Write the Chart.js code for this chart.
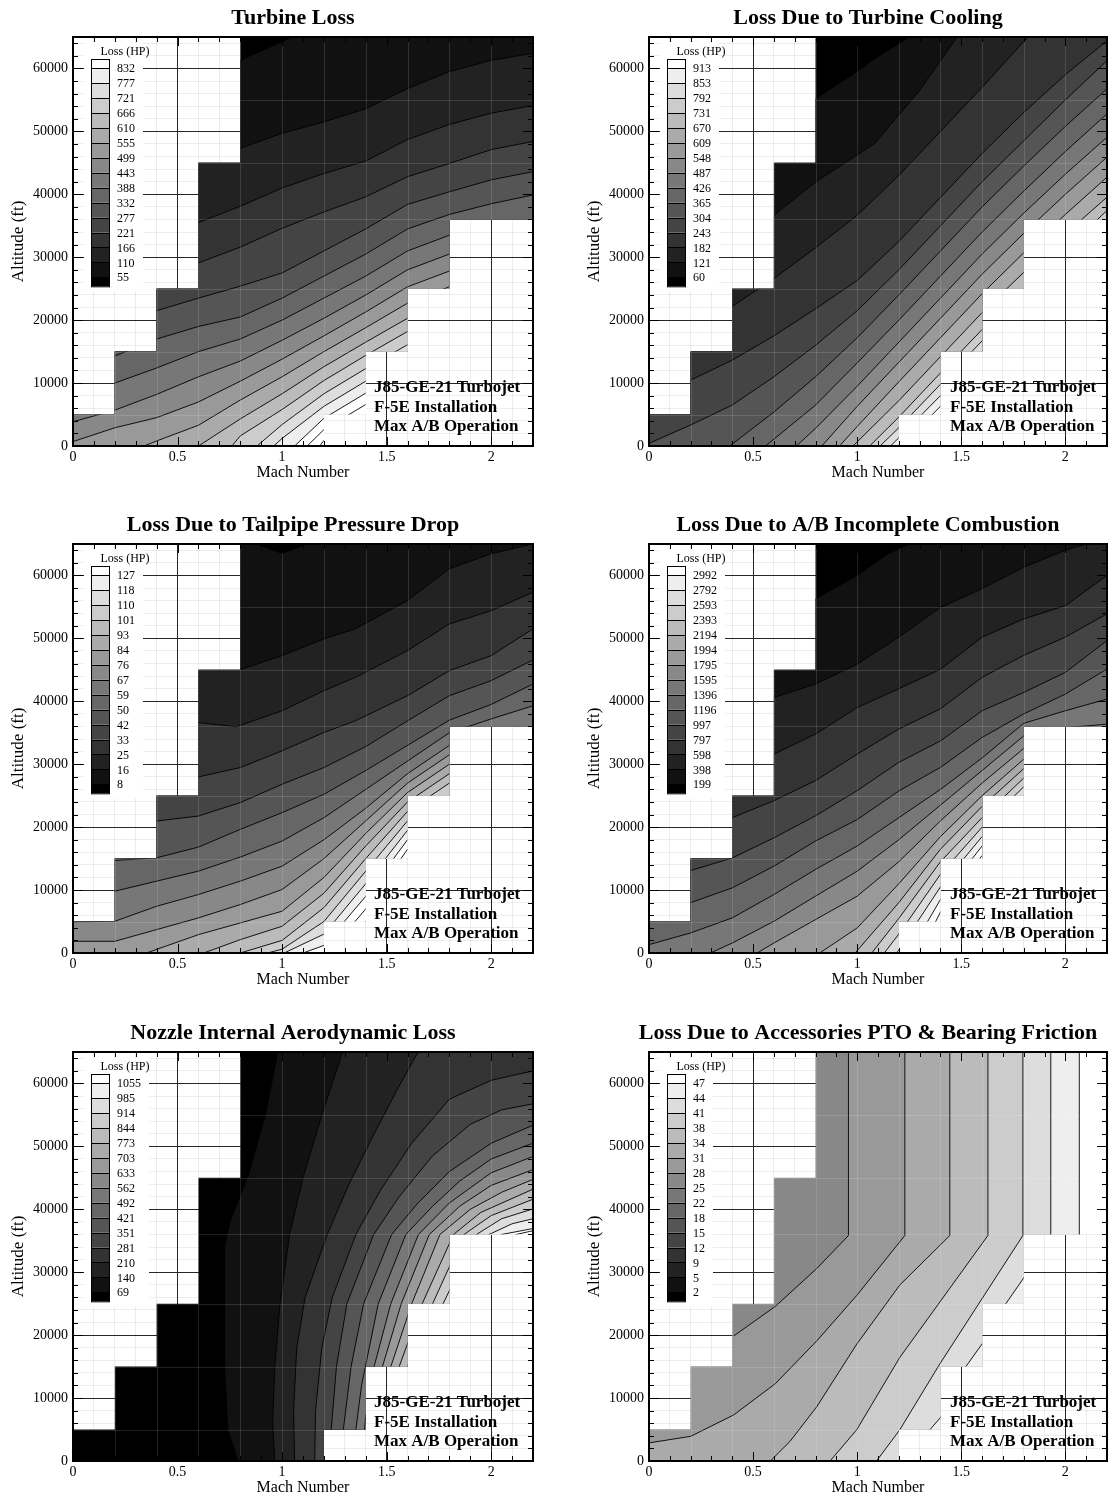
<!DOCTYPE html>
<html>
  <head>
    <title>J85-GE-21 Installation Losses</title>
    <script src="https://cdn.jsdelivr.net/npm/chart.js"></script>
    <style>
      body { margin: 0; background: #fff; width: 1110px; height: 1507px; overflow: hidden; position: relative; }
      .panel { position: absolute; }
    </style>
  </head>

  <body>
    <div class="panel" style="left:0px;top:1px;width:560px;height:491px"><canvas id="c1"></canvas></div>
    <div class="panel" style="left:576px;top:1px;width:534px;height:491px"><canvas id="c2"></canvas></div>
    <div class="panel" style="left:0px;top:508px;width:560px;height:491px"><canvas id="c3"></canvas></div>
    <div class="panel" style="left:576px;top:508px;width:534px;height:491px"><canvas id="c4"></canvas></div>
    <div class="panel" style="left:0px;top:1016px;width:560px;height:491px"><canvas id="c5"></canvas></div>
    <div class="panel" style="left:576px;top:1016px;width:534px;height:491px"><canvas id="c6"></canvas></div>

    <script>
      // axes
      const machRange = [0, 2.2];
      const altRange = [0, 65000];
      const machStep = 0.1;
      const machLabelStep = 0.5;
      const altStep = 1000;
      const altMinorStep = 2000;
      const altLabelStep = 10000;

      // flight envelope (staircase), everything outside stays white
      const envelope = [
        [0, 0], [0, 5000], [0.2, 5000], [0.2, 15000], [0.4, 15000], [0.4, 25000],
        [0.6, 25000], [0.6, 45000], [0.8, 45000], [0.8, 65000], [2.2, 65000],
        [2.2, 36000], [1.8, 36000], [1.8, 25000], [1.6, 25000], [1.6, 15000],
        [1.4, 15000], [1.4, 5000], [1.2, 5000], [1.2, 0]
      ];
      const zoneMach = [0.2, 0.4, 0.6, 0.8, 1.0, 1.2, 1.4, 1.6, 1.8, 2.0];
      const zoneAlt = [5000, 15000, 25000, 36000, 45000, 55000];

      // contour lines: [level index, [[mach, altitude], ...]]
      const turbineLevels = [55, 110, 166, 221, 277, 332, 388, 443, 499, 555, 610, 666, 721, 777, 832];
      const turbineLines = [
        [0, [[0.8, 61300], [1.05, 65000]]],
        [1, [[0.8, 47300], [1.0, 49700], [1.2, 51500], [1.4, 53600], [1.6, 56800], [1.8, 59500], [2.0, 61300], [2.2, 62400]]],
        [2, [[0.6, 35500], [0.8, 38100], [1.0, 41000], [1.2, 43300], [1.4, 45300], [1.6, 48700], [1.8, 51100], [2.0, 52900], [2.2, 54100]]],
        [3, [[0.6, 29100], [0.8, 31600], [1.0, 34600], [1.2, 37200], [1.4, 39600], [1.6, 42800], [1.8, 44900], [2.0, 47100], [2.2, 48400]]],
        [4, [[0.4, 21500], [0.6, 23500], [0.8, 25400], [1.0, 27500], [1.2, 31000], [1.4, 34500], [1.6, 38400], [1.8, 40400], [2.0, 42300], [2.2, 43600]]],
        [5, [[0.2, 14300], [0.4, 17000], [0.6, 19000], [0.8, 20500], [1.0, 23500], [1.2, 27000], [1.4, 30500], [1.6, 34500], [1.8, 36800], [2.0, 38500], [2.2, 39900]]],
        [6, [[0.2, 10000], [0.4, 12400], [0.6, 15000], [0.8, 17000], [1.0, 20000], [1.2, 23500], [1.4, 27000], [1.6, 31000], [1.8, 33500], [2.0, 35000], [2.2, 35800]]],
        [7, [[0, 3850], [0.2, 5700], [0.4, 8200], [0.6, 11000], [0.8, 13500], [1.0, 16800], [1.2, 20300], [1.4, 24000], [1.6, 28000], [1.8, 30500]]],
        [8, [[0, 700], [0.2, 2900], [0.4, 4500], [0.6, 7000], [0.8, 10300], [1.0, 13800], [1.2, 17500], [1.4, 21300], [1.6, 25300], [1.8, 27800]]],
        [9, [[0.34, 0], [0.4, 800], [0.6, 3300], [0.8, 7300], [1.0, 11000], [1.2, 15000], [1.4, 18800], [1.6, 22700], [1.8, 25300]]],
        [10, [[0.6, 0], [0.8, 4300], [1.0, 8300], [1.2, 12600], [1.4, 16500], [1.6, 20300]]],
        [11, [[0.76, 0], [0.8, 1600], [1.0, 5800], [1.2, 10400], [1.4, 14400], [1.6, 18200]]],
        [12, [[0.88, 0], [1.0, 3400], [1.2, 8300], [1.4, 12300], [1.6, 16100]]],
        [13, [[0.96, 0], [1.0, 1200], [1.2, 6300], [1.4, 10300], [1.6, 14200]]],
        [14, [[1.06, 0], [1.2, 4400], [1.4, 8400], [1.6, 12400]]],
        [15, [[1.12, 0], [1.2, 2600], [1.4, 6600]]],
        [16, [[1.18, 0], [1.2, 900], [1.4, 4900]]]
      ];

      const coolingLevels = [60, 121, 182, 243, 304, 365, 426, 487, 548, 609, 670, 731, 792, 853, 913];
      const coolingLines = [
        [0, [[0.8, 55200], [1.0, 59500], [1.083, 61530], [1.25, 65000]]],
        [1, [[0.6, 36660], [0.8, 41950], [1.083, 48030], [1.3, 56500], [1.48, 65000]]],
        [2, [[0.4, 22200], [0.6, 26600], [0.8, 31500], [1.0, 36660], [1.2, 43000], [1.4, 50000], [1.6, 57000], [1.82, 65000]]],
        [3, [[0.2, 10474], [0.4, 13650], [0.6, 17500], [0.8, 21800], [1.0, 26300], [1.2, 32500], [1.4, 39500], [1.6, 46500], [1.8, 53000], [2.0, 59000], [2.2, 64400]]],
        [4, [[0, 423], [0.2, 3333], [0.4, 6508], [0.6, 11000], [0.8, 16000], [1.0, 21500], [1.2, 28000], [1.4, 35000], [1.6, 42000], [1.8, 48500], [2.0, 55000], [2.2, 61250]]],
        [5, [[0.388, 0], [0.6, 5400], [0.8, 11000], [1.0, 17200], [1.2, 24000], [1.4, 31000], [1.6, 38000], [1.8, 44500], [2.0, 50800], [2.2, 56760]]],
        [6, [[0.56, 0], [0.8, 6500], [1.0, 13200], [1.2, 20000], [1.4, 27000], [1.6, 34000], [1.8, 40500], [2.0, 46800], [2.2, 52785]]],
        [7, [[0.708, 0], [0.8, 2800], [1.0, 9500], [1.2, 16500], [1.4, 23500], [1.6, 30500], [1.8, 37000], [2.0, 43200], [2.2, 49080]]],
        [8, [[0.83, 0], [1.0, 6300], [1.2, 13300], [1.4, 20300], [1.6, 27300], [1.8, 33800], [2.0, 40000], [2.2, 45900]]],
        [9, [[0.915, 0], [1.0, 3100], [1.2, 10200], [1.4, 17200], [1.6, 24200], [1.8, 30700], [2.0, 36800], [2.2, 42730]]],
        [10, [[0.98, 0], [1.2, 7200], [1.4, 14200], [1.6, 21200], [1.8, 27600], [2.0, 33700], [2.2, 39550]]],
        [11, [[1.06, 0], [1.2, 4600], [1.4, 11600], [1.6, 18500], [1.8, 24900], [2.0, 31200], [2.2, 37430]]],
        [12, [[1.11, 0], [1.2, 2900], [1.4, 9800], [1.6, 16700], [1.8, 23000], [2.0, 29500], [2.2, 35800]]],
        [13, [[1.16, 0], [1.2, 1300], [1.4, 8000], [1.6, 15000], [1.8, 21300], [2.0, 27800]]],
        [14, [[1.21, 0], [1.4, 6300], [1.6, 13300], [1.8, 19600]]],
        [15, [[1.26, 0], [1.4, 4600], [1.6, 11600], [1.8, 18000]]],
        [16, [[1.31, 0], [1.4, 3000], [1.6, 10000]]],
        [17, [[1.36, 0], [1.4, 1300], [1.6, 8400]]]
      ];

      const tailpipeLevels = [8, 16, 25, 33, 42, 50, 59, 67, 76, 84, 93, 101, 110, 118, 127];
      const tailpipeLines = [
        [0, [[0.88, 65000], [1.0, 63500], [1.12, 65000]]],
        [1, [[0.8, 45030], [1.0, 47260], [1.2, 49920], [1.35, 51510], [1.6, 56020], [1.8, 61060], [2.0, 63450], [2.2, 65000]]],
        [2, [[0.6, 36640], [0.78, 35950], [1.0, 38500], [1.2, 41680], [1.35, 43810], [1.6, 48050], [1.8, 52290], [2.0, 54410], [2.2, 57330]]],
        [3, [[0.6, 27980], [0.8, 29470], [1.0, 32130], [1.2, 35050], [1.35, 36900], [1.6, 40890], [1.8, 44870], [2.0, 47260], [2.2, 51510]]],
        [4, [[0.4, 20970], [0.6, 21770], [0.8, 23900], [1.0, 26820], [1.2, 29470], [1.4, 32800], [1.6, 36900], [1.8, 40890], [2.0, 43280], [2.2, 46570]]],
        [5, [[0.2, 14710], [0.4, 15130], [0.6, 16830], [0.8, 19650], [1.0, 22300], [1.2, 25220], [1.4, 29000], [1.6, 33000], [1.8, 37000], [2.0, 39500], [2.2, 42750]]],
        [6, [[0.2, 9820], [0.4, 11420], [0.6, 13010], [0.8, 15240], [1.0, 17790], [1.2, 21500], [1.4, 26000], [1.6, 30500], [1.8, 35000], [2.0, 37200], [2.2, 39290]]],
        [7, [[0, 4950], [0.2, 5040], [0.4, 7430], [0.6, 9290], [0.8, 11420], [1.0, 13800], [1.2, 18000], [1.4, 23000], [1.6, 28500], [1.8, 33000]]],
        [8, [[0, 1860], [0.2, 1860], [0.4, 3720], [0.6, 5580], [0.8, 7700], [1.0, 10090], [1.2, 15000], [1.4, 21000], [1.6, 27000], [1.8, 31500]]],
        [9, [[0.351, 0], [0.6, 2920], [0.8, 4780], [1.0, 6640], [1.2, 12000], [1.4, 19000], [1.6, 25500], [1.8, 30000]]],
        [10, [[0.625, 0], [0.8, 2120], [1.0, 4250], [1.2, 9500], [1.4, 17000], [1.6, 24000], [1.8, 28500]]],
        [11, [[0.8, 0], [1.0, 2000], [1.2, 7200], [1.4, 15000], [1.6, 22500], [1.8, 27000]]],
        [12, [[0.93, 0], [1.0, 600], [1.2, 5000], [1.4, 13000], [1.6, 21000]]],
        [13, [[1.01, 0], [1.2, 3000], [1.4, 11000], [1.6, 19500]]],
        [14, [[1.1, 0], [1.2, 1200], [1.4, 9000], [1.6, 18000]]],
        [15, [[1.22, 0], [1.4, 7000], [1.6, 16500]]],
        [16, [[1.32, 0], [1.4, 5000], [1.6, 15000]]]
      ];

      const afterburnerLevels = [199, 398, 598, 797, 997, 1196, 1396, 1595, 1795, 1994, 2194, 2393, 2593, 2792, 2992];
      const afterburnerLines = [
        [0, [[0.8, 56300], [1.0, 60000], [1.15, 63500], [1.25, 65000]]],
        [1, [[0.6, 40600], [0.8, 42750], [1.0, 45900], [1.2, 50200], [1.4, 54900], [1.6, 57900], [1.8, 61300], [2.0, 64000], [2.1, 65000]]],
        [2, [[0.6, 31600], [0.8, 34800], [1.0, 39000], [1.2, 42000], [1.4, 45100], [1.6, 50200], [1.8, 53100], [2.0, 55200], [2.2, 60000]]],
        [3, [[0.4, 21500], [0.6, 24200], [0.8, 27400], [1.0, 31600], [1.2, 35600], [1.4, 38800], [1.6, 43800], [1.8, 47300], [2.0, 50200], [2.2, 53900]]],
        [4, [[0.2, 13100], [0.4, 15100], [0.6, 18300], [0.8, 21800], [1.0, 25800], [1.2, 30300], [1.4, 33700], [1.6, 38500], [1.8, 41400], [2.0, 44600], [2.2, 49650]]],
        [5, [[0.2, 8000], [0.4, 10350], [0.6, 13800], [0.8, 17800], [1.0, 21200], [1.2, 25750], [1.4, 29500], [1.6, 34250], [1.8, 38000], [2.0, 41150], [2.2, 45130]]],
        [6, [[0, 1330], [0.2, 3190], [0.4, 5580], [0.6, 9290], [0.8, 13280], [1.0, 17000], [1.2, 21500], [1.4, 26000], [1.6, 31000], [1.8, 36500], [2.0, 38500], [2.2, 40350]]],
        [7, [[0.295, 0], [0.4, 1590], [0.6, 5040], [0.8, 9030], [1.0, 13000], [1.2, 18000], [1.4, 23500], [1.6, 29000], [1.8, 34500], [2.0, 35800], [2.2, 36370]]],
        [8, [[0.52, 0], [0.6, 1590], [0.8, 5310], [1.0, 9030], [1.2, 14500], [1.4, 21000], [1.6, 27000], [1.8, 32500]]],
        [9, [[0.82, 0], [1.0, 3980], [1.2, 11000], [1.4, 18500], [1.6, 25000], [1.8, 30800]]],
        [10, [[0.99, 0], [1.2, 8000], [1.4, 16500], [1.6, 23300], [1.8, 29300]]],
        [11, [[1.07, 0], [1.2, 5500], [1.4, 14500], [1.6, 21500], [1.8, 27800]]],
        [12, [[1.13, 0], [1.2, 3000], [1.4, 12500], [1.6, 20000], [1.8, 26400]]],
        [13, [[1.19, 0], [1.4, 10500], [1.6, 18500], [1.8, 25000]]],
        [14, [[1.25, 0], [1.4, 8500], [1.6, 17000]]],
        [15, [[1.3, 0], [1.4, 6500], [1.6, 15500]]],
        [16, [[1.36, 0], [1.4, 4500], [1.6, 14000]]]
      ];

      const nozzleLevels = [69, 140, 210, 281, 351, 421, 492, 562, 633, 703, 773, 844, 914, 985, 1055];
      const nozzleLines = [
        [0, [[0.79, 0], [0.74, 5000], [0.725, 15000], [0.725, 34000], [0.75, 38000], [0.84, 45500], [0.92, 55000], [0.98, 65000]]],
        [1, [[0.965, 0], [0.955, 6000], [0.965, 15000], [0.99, 25000], [1.036, 36000], [1.1, 45000], [1.19, 55000], [1.29, 65000]]],
        [2, [[1.06, 0], [1.055, 8000], [1.07, 18000], [1.11, 26000], [1.216, 36000], [1.32, 44000], [1.44, 52000], [1.55, 59000], [1.65, 65000]]],
        [3, [[1.156, 0], [1.16, 8000], [1.19, 18000], [1.24, 26000], [1.353, 36000], [1.47, 43000], [1.62, 50500], [1.8, 57500], [2.0, 60500], [2.2, 62000]]],
        [4, [[1.215, 0], [1.235, 5000], [1.26, 15000], [1.31, 25000], [1.438, 36000], [1.56, 42000], [1.72, 48500], [1.9, 53500], [2.05, 55800], [2.2, 56760]]],
        [5, [[1.27, 0], [1.293, 5000], [1.33, 15000], [1.39, 25000], [1.524, 36000], [1.65, 41000], [1.8, 46000], [2.0, 50500], [2.2, 53370]]],
        [6, [[1.33, 0], [1.353, 5000], [1.38, 12000], [1.46, 25000], [1.592, 36000], [1.72, 40500], [1.85, 44500], [2.0, 48000], [2.2, 50500]]],
        [7, [[1.38, 0], [1.4, 7000], [1.44, 15000], [1.52, 25000], [1.652, 36000], [1.8, 41000], [2.0, 45800], [2.2, 48400]]],
        [8, [[1.43, 0], [1.48, 15000], [1.57, 25000], [1.704, 36000], [1.85, 40500], [2.0, 43800], [2.2, 46300]]],
        [9, [[1.47, 0], [1.52, 15000], [1.62, 25000], [1.755, 36000], [1.9, 40000], [2.05, 42700], [2.2, 44760]]],
        [10, [[1.51, 0], [1.56, 15000], [1.67, 25000], [1.82, 36000], [1.95, 39500], [2.2, 43200]]],
        [11, [[1.55, 0], [1.6, 15000], [1.72, 25000], [1.87, 36000], [2.0, 39000], [2.2, 41600]]],
        [12, [[1.59, 0], [1.64, 15000], [1.77, 25000], [1.93, 36000], [2.05, 38500], [2.2, 40060]]],
        [13, [[1.63, 0], [1.68, 15000], [1.82, 25000], [1.99, 36000], [2.1, 37700], [2.2, 38500]]],
        [14, [[1.67, 0], [1.72, 15000], [1.86, 25000], [2.05, 36000], [2.2, 36940]]],
        [15, [[1.75, 0], [1.95, 25000], [2.12, 36000], [2.2, 36600]]]
      ];

      const accessoryLevels = [2, 5, 9, 12, 15, 18, 22, 25, 28, 31, 34, 38, 41, 44, 47];
      const accessoryLines = [
        [8, [[0.407, 19870], [0.607, 24580], [0.806, 30590], [0.958, 35830], [0.958, 65000]]],
        [9, [[0, 2880], [0.2, 3920], [0.407, 7320], [0.607, 12290], [0.806, 19090], [0.998, 26310], [1.229, 35830], [1.229, 65000]]],
        [10, [[0.583, 0], [0.678, 3140], [0.806, 8630], [0.998, 18570], [1.205, 27980], [1.445, 35830], [1.445, 65000]]],
        [11, [[0.87, 0], [0.998, 4970], [1.205, 16470], [1.628, 35830], [1.628, 65000]]],
        [12, [[1.093, 0], [1.205, 4970], [1.397, 15430], [1.796, 35830], [1.796, 65000]]],
        [13, [[1.25, 0], [1.35, 5000], [1.4, 6900], [1.52, 14900], [1.6, 18600], [1.71, 24800], [1.8, 29100], [1.93, 36000], [1.93, 65000]]],
        [14, [[1.5, 0], [2.067, 36000], [2.067, 65000]]]
      ];

      const noteLines = ["J85-GE-21 Turbojet", "F-5E Installation", "Max A/B Operation"];

      const serif = '"Liberation Serif", "Times New Roman", serif';
      Chart.defaults.font.family = serif;
      Chart.defaults.color = "#000";

      function near(v, step) {
        const r = v / step;
        return Math.abs(r - Math.round(r)) < 1e-6;
      }
      function gray(b) {
        const v = Math.min(255, 17 * b);
        return "rgb(" + v + "," + v + "," + v + ")";
      }
      function toXY(pts) {
        return pts.map((p) => ({ x: p[0], y: p[1] }));
      }
      // polygon of the high-valued side of a contour line (lower right)
      function closeBand(pts) {
        const out = pts.slice();
        const first = out[0];
        const last = out[out.length - 1];
        if (first[0] > machRange[0] && first[1] > altRange[0]) out.unshift([machRange[0], first[1]]);
        if (last[0] < machRange[1]) out.push([machRange[1], last[1]]);
        out.push([machRange[1], altRange[0]], [machRange[0], altRange[0]]);
        return out;
      }
      function gridColor(v, major, minor) {
        if (near(v, major)) return "#262626";
        if (near(v, minor)) return "rgba(0,0,0,0.07)";
        return "rgba(0,0,0,0)";
      }

      const tecplot = {
        id: "tecplot",
        beforeDatasetsDraw(chart) {
          const { ctx, scales } = chart;
          ctx.save();
          ctx.beginPath();
          envelope.forEach((p, i) => {
            const px = scales.x.getPixelForValue(p[0]);
            const py = scales.y.getPixelForValue(p[1]);
            if (i === 0) ctx.moveTo(px, py);
            else ctx.lineTo(px, py);
          });
          ctx.closePath();
          ctx.clip();
        },
        afterDatasetsDraw(chart) {
          const { ctx, scales, chartArea: a } = chart;
          // faint block boundaries of the data zones
          ctx.strokeStyle = "rgba(255,255,255,0.13)";
          ctx.lineWidth = 1;
          ctx.beginPath();
          zoneMach.forEach((m) => {
            const px = Math.round(scales.x.getPixelForValue(m)) + 0.5;
            ctx.moveTo(px, a.top);
            ctx.lineTo(px, a.bottom);
          });
          zoneAlt.forEach((h) => {
            const py = Math.round(scales.y.getPixelForValue(h)) + 0.5;
            ctx.moveTo(a.left, py);
            ctx.lineTo(a.right, py);
          });
          ctx.stroke();
          ctx.restore();
        },
        afterDraw(chart, args, opts) {
          const { ctx, scales, chartArea: a } = chart;
          const L = a.left, T = a.top, R = a.right, B = a.bottom;
          ctx.save();

          // colour legend
          const levels = opts.levels;
          const n = levels.length;
          const bx = L + 18, bw = 18, top = T + 22, first = T + 31.3, step = 14.93;
          const bottom = first + step * (n - 1) + 9;
          ctx.font = "12px " + serif;
          const labelX = bx + bw + 8;
          let maxW = 0;
          levels.forEach((v) => { maxW = Math.max(maxW, ctx.measureText(String(v)).width); });
          ctx.fillStyle = "#fff";
          ctx.fillRect(L + 11, T + 6, labelX + maxW + 8 - (L + 11), bottom + 5 - (T + 6));
          for (let k = 0; k <= n; k++) {
            const y0 = k === 0 ? top : first + step * (k - 1);
            const y1 = k === n ? bottom : first + step * k;
            ctx.fillStyle = gray(n - k);
            ctx.fillRect(bx, y0, bw, y1 - y0);
          }
          ctx.strokeStyle = "#000";
          ctx.lineWidth = 1;
          ctx.strokeRect(bx + 0.5, top + 0.5, bw, bottom - top);
          ctx.beginPath();
          for (let k = 0; k < n; k++) {
            const y = Math.round(first + step * k) + 0.5;
            ctx.moveTo(bx, y);
            ctx.lineTo(bx + bw, y);
          }
          ctx.stroke();
          ctx.fillStyle = "#000";
          ctx.textBaseline = "middle";
          ctx.textAlign = "left";
          for (let k = 0; k < n; k++) {
            ctx.fillText(String(levels[n - 1 - k]), labelX, first + step * k + 1);
          }
          ctx.textAlign = "center";
          ctx.fillText("Loss (HP)", L + 52, T + 15);

          // engine note
          ctx.font = "bold 17px " + serif;
          ctx.textAlign = "left";
          noteLines.forEach((t, i) => ctx.fillText(t, L + 301, B - 58 + i * 19.5));

          // title
          ctx.font = "bold 22px " + serif;
          ctx.textAlign = "center";
          ctx.fillText(opts.title, (L + R) / 2 - 10, T - 19);

          // inward tick marks on all four sides
          ctx.strokeStyle = "#000";
          ctx.lineWidth = 1;
          ctx.beginPath();
          scales.x.ticks.forEach((t) => {
            if (t.value <= machRange[0] || t.value >= machRange[1]) return;
            const len = near(t.value, machLabelStep) ? 9 : 5;
            const px = Math.round(scales.x.getPixelForValue(t.value)) + 0.5;
            ctx.moveTo(px, B); ctx.lineTo(px, B - len);
            ctx.moveTo(px, T); ctx.lineTo(px, T + len);
          });
          scales.y.ticks.forEach((t) => {
            if (t.value <= altRange[0] || t.value >= altRange[1]) return;
            if (!near(t.value, altMinorStep)) return;
            const len = near(t.value, altLabelStep) ? 10 : 5;
            const py = Math.round(scales.y.getPixelForValue(t.value)) + 0.5;
            ctx.moveTo(L, py); ctx.lineTo(L + len, py);
            ctx.moveTo(R, py); ctx.lineTo(R - len, py);
          });
          ctx.stroke();

          // frame
          ctx.lineWidth = 2;
          ctx.strokeRect(L, T, R - L, B - T);
          ctx.restore();
        }
      };

      const fullFrame = [[0, 0], [0, 65000], [2.2, 65000], [2.2, 0]];

      function makeChart(id, title, levels, lines, base, padRight) {
        const datasets = [{
          data: toXY(fullFrame), backgroundColor: gray(base), fill: "shape",
          borderColor: "rgba(0,0,0,0)", borderWidth: 0, order: 300
        }];
        lines.forEach(([idx, pts], i) => {
          datasets.push({
            data: toXY(closeBand(pts)), backgroundColor: gray(idx + 1), fill: "shape",
            borderColor: "rgba(0,0,0,0)", borderWidth: 0, order: 200 - i
          });
        });
        lines.forEach(([idx, pts]) => {
          datasets.push({ data: toXY(pts), borderColor: "#000", borderWidth: 0.9, fill: false, order: 0 });
        });

        new Chart(document.getElementById(id), {
          type: "line",
          data: { datasets: datasets },
          options: {
            animation: false,
            responsive: true,
            maintainAspectRatio: false,
            events: [],
            layout: { padding: { top: 36, left: 0, right: padRight, bottom: 0 } },
            elements: { point: { radius: 0 }, line: { tension: 0 } },
            plugins: {
              legend: { display: false },
              tooltip: { enabled: false },
              title: { display: false },
              tecplot: { title: title, levels: levels }
            },
            scales: {
              x: {
                type: "linear",
                min: machRange[0],
                max: machRange[1],
                ticks: {
                  stepSize: machStep,
                  autoSkip: false,
                  maxRotation: 0,
                  padding: 3,
                  font: { size: 14 },
                  color: "#000",
                  callback: (v) => (near(v, machLabelStep) ? String(Math.round(v * 10) / 10) : "")
                },
                grid: {
                  drawTicks: false,
                  color: (c) => gridColor(c.tick.value, machLabelStep, machStep),
                  lineWidth: 1
                },
                border: { display: false },
                title: { display: true, text: "Mach Number", font: { size: 16 }, color: "#000", padding: { top: 0, bottom: 10 } },
                afterFit: (s) => { s.height = 46; }
              },
              y: {
                type: "linear",
                min: altRange[0],
                max: altRange[1],
                ticks: {
                  stepSize: altStep,
                  autoSkip: false,
                  padding: 5,
                  font: { size: 14 },
                  color: "#000",
                  callback: (v) => (near(v, altLabelStep) ? String(v) : "")
                },
                grid: {
                  drawTicks: false,
                  color: (c) => gridColor(c.tick.value, altLabelStep, altMinorStep),
                  lineWidth: 1
                },
                border: { display: false },
                title: { display: true, text: "Altitude (ft)", font: { size: 17 }, color: "#000", padding: { top: 8, bottom: 0 } },
                afterFit: (s) => { s.width = 73; }
              }
            }
          },
          plugins: [tecplot]
        });
      }

      makeChart("c1", "Turbine Loss", turbineLevels, turbineLines, 0, 27);
      makeChart("c2", "Loss Due to Turbine Cooling", coolingLevels, coolingLines, 0, 2);
      makeChart("c3", "Loss Due to Tailpipe Pressure Drop", tailpipeLevels, tailpipeLines, 0, 27);
      makeChart("c4", "Loss Due to A/B Incomplete Combustion", afterburnerLevels, afterburnerLines, 0, 2);
      makeChart("c5", "Nozzle Internal Aerodynamic Loss", nozzleLevels, nozzleLines, 0, 27);
      makeChart("c6", "Loss Due to Accessories PTO & Bearing Friction", accessoryLevels, accessoryLines, 8, 2);
    </script>
  </body>
</html>
